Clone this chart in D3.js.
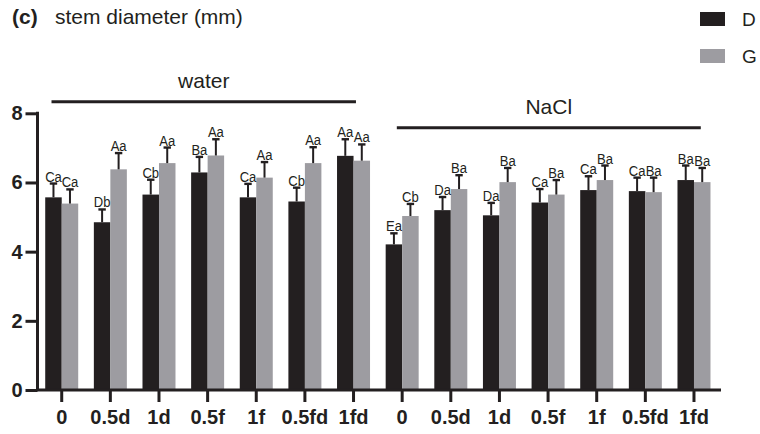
<!DOCTYPE html>
<html>
<head>
<meta charset="utf-8">
<script src="https://cdn.jsdelivr.net/npm/d3@7"></script>
<style>
  body { margin: 0; background: #fff; }
  text { font-family: "Liberation Sans", Arial, sans-serif; fill: #231f20; }
</style>
</head>
<body>
<script>
// treatments repeat under each salt condition
var treatments = ["0", "0.5d", "1d", "0.5f", "1f", "0.5fd", "1fd"];
var conditions = ["water", "NaCl"];
var series = ["D", "G"];

// mean values (mm)
var waterD = [5.57, 4.85, 5.65, 6.29, 5.57, 5.45, 6.77];
var waterG = [5.39, 6.38, 6.56, 6.78, 6.14, 6.56, 6.63];
var naclD = [4.21, 5.20, 5.05, 5.42, 5.78, 5.75, 6.07];
var naclG = [5.03, 5.81, 6.01, 5.65, 6.07, 5.72, 6.01];

// upper error bar length
var waterDErr = [0.40, 0.37, 0.43, 0.45, 0.39, 0.40, 0.48];
var waterGErr = [0.41, 0.47, 0.45, 0.47, 0.45, 0.46, 0.47];
var naclDErr = [0.32, 0.38, 0.36, 0.39, 0.40, 0.39, 0.42];
var naclGErr = [0.35, 0.40, 0.41, 0.42, 0.42, 0.42, 0.41];

// significance letters
var waterDLet = ["Ca", "Db", "Cb", "Ba", "Ca", "Cb", "Aa"];
var waterGLet = ["Ca", "Aa", "Aa", "Aa", "Aa", "Aa", "Aa"];
var naclDLet = ["Ea", "Da", "Da", "Ca", "Ca", "Ca", "Ba"];
var naclGLet = ["Cb", "Ba", "Ba", "Ba", "Ba", "Ba", "Ba"];

var yTicks = [0, 2, 4, 6, 8];

// build rows for drawing
var rows = [];
conditions.forEach(function (c) {
  var d = c === "water" ? waterD : naclD;
  var g = c === "water" ? waterG : naclG;
  var de = c === "water" ? waterDErr : naclDErr;
  var ge = c === "water" ? waterGErr : naclGErr;
  var dl = c === "water" ? waterDLet : naclDLet;
  var gl = c === "water" ? waterGLet : naclGLet;
  treatments.forEach(function (t, i) {
    var key = c + "|" + t;
    rows.push({ key: key, s: "D", v: d[i], e: de[i], l: dl[i] });
    rows.push({ key: key, s: "G", v: g[i], e: ge[i], l: gl[i] });
  });
});
var keys = [];
conditions.forEach(function (c) {
  treatments.forEach(function (t) { keys.push(c + "|" + t); });
});

var svg = d3.select("body").append("svg")
  .attr("width", 760)
  .attr("height", 434);

var x0 = d3.scaleBand().domain(keys).range([37.4, 718.3]).padding(0);
var x1 = d3.scaleBand().domain(series).range([0, x0.bandwidth()])
  .paddingInner(0).paddingOuter(0.474);
var y = d3.scaleLinear().domain([0, 8]).range([390, 113.3]);
var color = d3.scaleOrdinal().domain(series).range(["#231f20", "#9d9ca1"]);

// bars
svg.append("g").selectAll("rect")
  .data(rows)
  .enter()
  .append("rect")
  .attr("x", function (d) { return x0(d.key) + x1(d.s); })
  .attr("y", function (d) { return y(d.v); })
  .attr("width", x1.bandwidth())
  .attr("height", function (d) { return y(0) - y(d.v); })
  .attr("fill", function (d) { return color(d.s); });

// error bars (upper only)
var eb = svg.append("g").attr("stroke", "#231f20").attr("stroke-width", 2);
var cx = function (d) { return x0(d.key) + x1(d.s) + x1.bandwidth() / 2; };
eb.selectAll("line.v")
  .data(rows).enter().append("line")
  .attr("class", "v")
  .attr("x1", cx).attr("x2", cx)
  .attr("y1", function (d) { return y(d.v); })
  .attr("y2", function (d) { return y(d.v + d.e); });
eb.selectAll("line.cap")
  .data(rows).enter().append("line")
  .attr("class", "cap")
  .attr("stroke-width", 2.4)
  .attr("x1", function (d) { return cx(d) - 3.7; })
  .attr("x2", function (d) { return cx(d) + 3.7; })
  .attr("y1", function (d) { return y(d.v + d.e); })
  .attr("y2", function (d) { return y(d.v + d.e); });

// letters, slightly condensed like the original
svg.append("g").selectAll("text")
  .data(rows).enter().append("text")
  .attr("transform", function (d) {
    return "translate(" + cx(d) + "," + (y(d.v + d.e) - 2) + ") scale(0.9,1)";
  })
  .attr("text-anchor", "middle")
  .attr("font-size", 14.5)
  .text(function (d) { return d.l; });

// y axis
var yAxis = svg.append("g").attr("transform", "translate(37.5,0)")
  .call(d3.axisLeft(y).tickValues(yTicks).tickSize(12).tickPadding(3).tickFormat(d3.format("d")));
yAxis.select(".domain").remove();
yAxis.selectAll(".tick line").attr("stroke", "#231f20").attr("stroke-width", 3);
yAxis.selectAll(".tick text")
  .attr("font-size", 20).attr("font-weight", "bold")
  .attr("font-family", "Liberation Sans, Arial, sans-serif").attr("fill", "#231f20");
svg.append("line")
  .attr("x1", 37.5).attr("x2", 37.5)
  .attr("y1", y(8) - 1.5).attr("y2", y(0))
  .attr("stroke", "#231f20").attr("stroke-width", 3);

// x axis
var xAxis = svg.append("g").attr("transform", "translate(0," + y(0) + ")")
  .call(d3.axisBottom(x0).tickSize(12).tickPadding(8)
    .tickFormat(function (k) { return k.split("|")[1]; }));
xAxis.select(".domain").remove();
xAxis.selectAll(".tick line").attr("stroke", "#231f20").attr("stroke-width", 3);
xAxis.selectAll(".tick text")
  .attr("font-size", 20).attr("font-weight", "bold")
  .attr("font-family", "Liberation Sans, Arial, sans-serif").attr("fill", "#231f20");
svg.append("line")
  .attr("x1", 36).attr("x2", 721)
  .attr("y1", y(0)).attr("y2", y(0))
  .attr("stroke", "#231f20").attr("stroke-width", 3);

// condition brackets, positions in treatment index units
var brackets = [
  { name: "water", from: -0.21, to: 6.05, ly: 101.7 },
  { name: "NaCl", from: -0.11, to: 6.14, ly: 127.7 }
];
brackets.forEach(function (b) {
  var base = x0(b.name + "|0") + x0.bandwidth() / 2;
  var px = d3.scaleLinear().domain([0, 1]).range([base, base + x0.step()]);
  svg.append("line")
    .attr("x1", px(b.from)).attr("x2", px(b.to))
    .attr("y1", b.ly).attr("y2", b.ly)
    .attr("stroke", "#231f20").attr("stroke-width", 3);
  svg.append("text")
    .attr("x", (px(b.from) + px(b.to)) / 2)
    .attr("y", b.ly - 14)
    .attr("text-anchor", "middle")
    .attr("font-size", 21)
    .text(b.name);
});

// title
svg.append("text").attr("x", 12).attr("y", 24)
  .attr("font-size", 21).attr("font-weight", "bold").text("(c)");
svg.append("text").attr("x", 55).attr("y", 24)
  .attr("font-size", 21).text("stem diameter (mm)");

// legend
var legend = svg.append("g").selectAll("g")
  .data(series).enter().append("g")
  .attr("transform", function (d, i) { return "translate(700," + (12 + i * 37) + ")"; });
legend.append("rect")
  .attr("width", 25).attr("height", 14)
  .attr("fill", function (d) { return color(d); });
legend.append("text")
  .attr("x", 42).attr("y", 14)
  .attr("font-size", 19)
  .text(function (d) { return d; });
</script>
</body>
</html>
